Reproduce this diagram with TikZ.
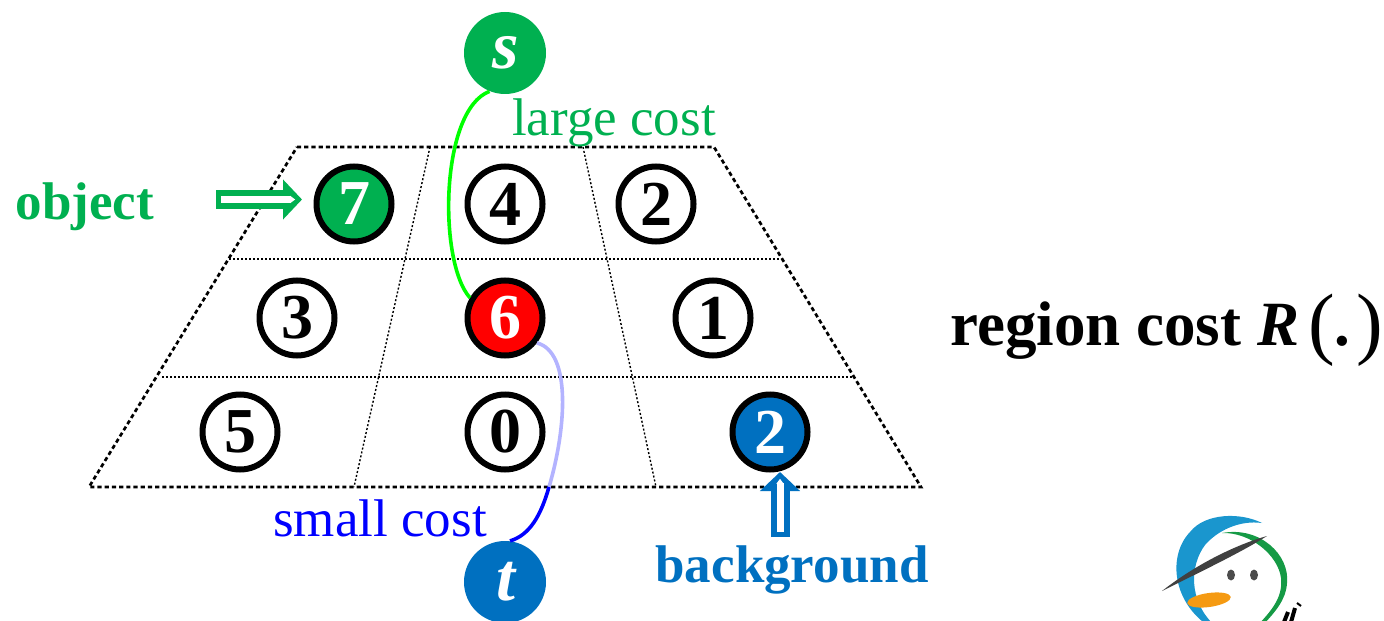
\documentclass[tikz,border=0pt]{standalone}
\usepackage{fontspec}
\setmainfont{Liberation Serif}
\usepackage{xcolor}
\usetikzlibrary{arrows.meta, positioning, calc}
\definecolor{objgreen}{HTML}{00B050}
\definecolor{bkgblue}{HTML}{0070C0}
\definecolor{lime}{HTML}{00FF00}
\definecolor{paleblue}{HTML}{B3B3FF}
\definecolor{logoblue}{HTML}{1A96CE}
\definecolor{logogreen}{HTML}{159A45}
\definecolor{logobeak}{HTML}{F59A12}
\newcommand{\bigparen}[1]{\raisebox{-2pt}{\fontsize{40}{40}\selectfont\mdseries #1}}
\tikzstyle{pixel} = [circle, minimum size=37.5pt, inner sep=0pt, draw=black, fill=white,
                     line width=3pt, font=\fontsize{32}{32}\selectfont\bfseries]
\tikzstyle{terminal} = [circle, minimum size=41pt, inner sep=0pt,
                        font=\fontsize{34}{34}\selectfont\bfseries\itshape, text=white]
\tikzstyle{cost} = [font=\fontsize{26.5}{26.5}\selectfont]
\tikzstyle{tag} = [font=\fontsize{26.5}{26.5}\selectfont\bfseries]
\tikzstyle{outer} = [line width=1.35pt, dash pattern=on 2.1pt off 1.5pt]
\tikzstyle{inner} = [line width=0.7pt, dash pattern=on 1pt off 1pt]
\tikzstyle{hollow} = [line width=9.5pt, -{Triangle[length=9.5pt, width=19.5pt]}]
\tikzstyle{hollowin} = [white, line width=3.5pt, shorten <=2.7pt, shorten >=3.4pt,
                        -{Triangle[length=2.5pt, width=3.5pt]}]

\begin{document}
\begin{tikzpicture}[x=0.5pt, y=-0.5pt]
    \useasboundingbox (0,0) rectangle (1384,620);

    % Grid
    \draw[inner] (229,259) -- (781,259);
    \draw[inner] (162,377) -- (854,377);
    \draw[inner] (430,147) -- (354,487);
    \draw[inner] (583,147) -- (656,487);
    \draw[outer] (297,147) -- (714,147) -- (921,487) -- (89,487) -- cycle;

    % Pixels
    \node[pixel, fill=objgreen, text=white] (seven) at (354,204) {7};
    \node[pixel] (four) at (505,204) {4};
    \node[pixel] (twotop) at (656,204) {2};
    \node[pixel] (three) at (297,318) {3};
    \node[pixel, fill=red, text=white] (six) at (505,318) {6};
    \node[pixel] (one) at (713,318) {1};
    \node[pixel] (five) at (240,432) {5};
    \node[pixel] (zero) at (505,432) {0};
    \node[pixel, fill=bkgblue, text=white] (twobot) at (770,432) {2};

    % Terminals
    \node[terminal, fill=objgreen] (s) at (505,53) {\kern1pt\raisebox{-3pt}{s}};
    \node[terminal, fill=bkgblue] (t) at (505,582) {\kern1pt\raisebox{-1.5pt}{t}};

    % Costs
    \draw[lime, line width=1.8pt] (s.248) .. controls (440,110) and (438,262) .. (six.150);
    \coordinate (cross) at (549,487);
    \draw[paleblue, line width=1.8pt] (six.-38) .. controls (572,352) and (566,430) .. (cross);
    \draw[blue, line width=1.8pt] (cross) .. controls (541,515) and (530,535) .. (t.83);
    \node[cost, text=objgreen] (large) at (614,123) {large cost};
    \node[cost, text=blue] (small) at (380,518) {small cost};

    % Seeds
    \node[tag, text=objgreen] (object) at (85,207) {object};
    \node[tag, text=bkgblue] (background) at (792,570) {background};
    \coordinate (objectfrom) at (216,199.5);
    \coordinate (objectto) at (302,199.5);
    \coordinate (bkgfrom) at (780,537);
    \coordinate (bkgto) at (780,472);
    \draw[hollow, objgreen] (objectfrom) -- (objectto);
    \draw[hollowin] (objectfrom) -- (objectto);
    \draw[hollow, bkgblue] (bkgfrom) -- (bkgto);
    \draw[hollowin] (bkgfrom) -- (bkgto);

    \node[font=\fontsize{31.5}{32}\selectfont\bfseries, anchor=base west, inner sep=0pt] (region) at (950,345)
        {region cost \textit{R}\kern4.5pt\bigparen{(}.\kern3pt\bigparen{)}};

    % Logo
    \fill[logoblue] (1262,523) .. controls (1240,512) and (1205,513) .. (1190,532)
        .. controls (1168,555) and (1172,600) .. (1207,625)
        -- (1214,625) .. controls (1188,600) and (1190,565) .. (1205,545)
        .. controls (1218,530) and (1240,520) .. cycle;
    \fill[logogreen] (1222,533) .. controls (1260,526) and (1290,555) .. (1287,583)
        .. controls (1286,600) and (1275,612) .. (1263,625) -- (1258,625)
        .. controls (1272,610) and (1283,597) .. (1281,578)
        .. controls (1278,555) and (1250,532) .. cycle;
    \fill[black!75] (1162,591) .. controls (1195,565) and (1235,545) .. (1267,536)
        .. controls (1240,553) and (1200,572) .. cycle;
    \fill[black!70] (1231,575) ellipse (4 and 5.5);
    \fill[black!70] (1254,575) ellipse (4 and 5.5);
    \fill[logobeak, rotate around={8:(1209,600)}] (1209,600) ellipse (22 and 7);
    \draw[black, line width=2pt] (1284,622) -- (1288,612) (1291,622) -- (1295,608);
    \draw[black, line width=1pt] (1297,603) -- (1301,606);
\end{tikzpicture}
\end{document}
